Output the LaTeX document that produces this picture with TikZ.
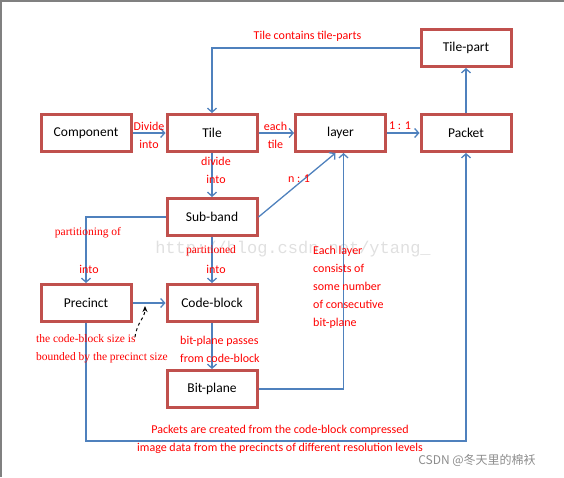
\documentclass[tikz,border=0pt]{standalone}
\usepackage{fontspec}
\setmainfont{Carlito}
\newfontfamily\serifface{Liberation Serif}
\newfontfamily\monoface{Liberation Mono}
\newfontfamily\cjkface{Noto Sans CJK SC}
\usepackage{tikz}
\usetikzlibrary{arrows.meta}
\definecolor{boxred}{RGB}{192,80,77}
\definecolor{linkblue}{RGB}{79,129,189}
\definecolor{labelred}{RGB}{255,0,0}

\begin{document}
\begin{tikzpicture}[x=1pt,y=-1pt,
	part/.style={draw=boxred, line width=3pt, fill=white, minimum width=90pt, minimum height=37pt, inner sep=0pt, font=\fontsize{13.5}{15}\selectfont},
	link/.style={draw=linkblue, line width=1.3pt, -{Straight Barb[length=4pt,width=9pt]}},
	lbl/.style={text=labelred, inner sep=0pt, font=\fontsize{12}{18}\selectfont},
	slbl/.style={text=labelred, inner sep=0pt, font=\serifface\fontsize{11.5}{18}\selectfont}]
\useasboundingbox (0,0) rectangle (564,477);
\draw[gray, line width=2pt] (564,1) -- (1,1) -- (1,477);
\node[text=black!12, inner sep=0pt, font=\monoface\fontsize{17}{20}\selectfont] (wmurl) at (293,249) {http://blog.csdn.net/ytang\_};
\node[text=black!45, inner sep=0pt, font=\cjkface\fontsize{12}{14}\selectfont] (wmcsdn) at (477,460) {CSDN @冬天里的棉袄};

\node[part] (comp) at (86,133) {Component};
\node[part] (tile) at (212,133) {Tile};
\node[part] (layer) at (340.5,133) {layer};
\node[part] (packet) at (466,133) {Packet};
\node[part] (tilepart) at (466,48) {Tile-part};
\node[part] (subband) at (212,217) {Sub-band};
\node[part] (precinct) at (86,303) {Precinct};
\node[part] (codeblock) at (212,303) {Code-block};
\node[part] (bitplane) at (212,389) {Bit-plane};
\coordinate (bottom) at (300,441);
\coordinate (hint) at (135,337);

\draw[link] (comp) -- (tile);
\draw[link] (tile) -- (layer);
\draw[link] (layer) -- (packet);
\draw[link] (packet) -- (tilepart);
\draw[link] (tilepart.west) -| (tile.north);
\draw[link] (tile) -- (subband);
\draw[link] (subband.east) -- ([xshift=-5pt]layer.south);
\draw[link] (bitplane.east) -| ([xshift=3pt]layer.south);
\draw[link] (subband.west) -| (precinct.north);
\draw[link] (subband) -- (codeblock);
\draw[link] (precinct) -- (codeblock);
\draw[link] (codeblock) -- (bitplane);
\draw[link] (precinct.south) |- (bottom) -| (packet.south);
\draw[dashed, line width=1pt, -{Stealth[length=6pt,width=5pt]}] (hint) .. controls (137,322) and (145,318) .. (145,306);

\node[lbl] (tcont) at (307.5,36) {Tile contains tile-parts};
\node[lbl, align=center] (divide) at (149,135) {Divide\\into};
\node[lbl, align=center] (each) at (275.5,135) {each\\tile};
\node[lbl] (onetoone) at (400,126) {1 : 1};
\node[lbl, align=center] (divsub) at (216,170.5) {divide\\into};
\node[lbl] (ntoone) at (299,179) {n : 1};
\node[slbl] (partof) at (88,233) {partitioning of};
\node[lbl] (partinto) at (89,269) {into};
\node[slbl] (parted) at (211,251) {partitioned};
\node[lbl] (cbinto) at (216,269) {into};
\node[lbl, align=left, anchor=west] (eachlayer) at (313,287) {Each layer\\consists of\\some number\\of consecutive\\bit-plane};
\node[slbl, align=left, anchor=west] (bounded) at (36,349) {the code-block size is\\bounded by the precinct size};
\node[lbl, align=left, anchor=west] (passes) at (180,349) {bit-plane passes\\from code-block};
\node[lbl, align=center] (created) at (280,439) {Packets are created from the code-block compressed\\image data from the precincts of different resolution levels};
\end{tikzpicture}
\end{document}
